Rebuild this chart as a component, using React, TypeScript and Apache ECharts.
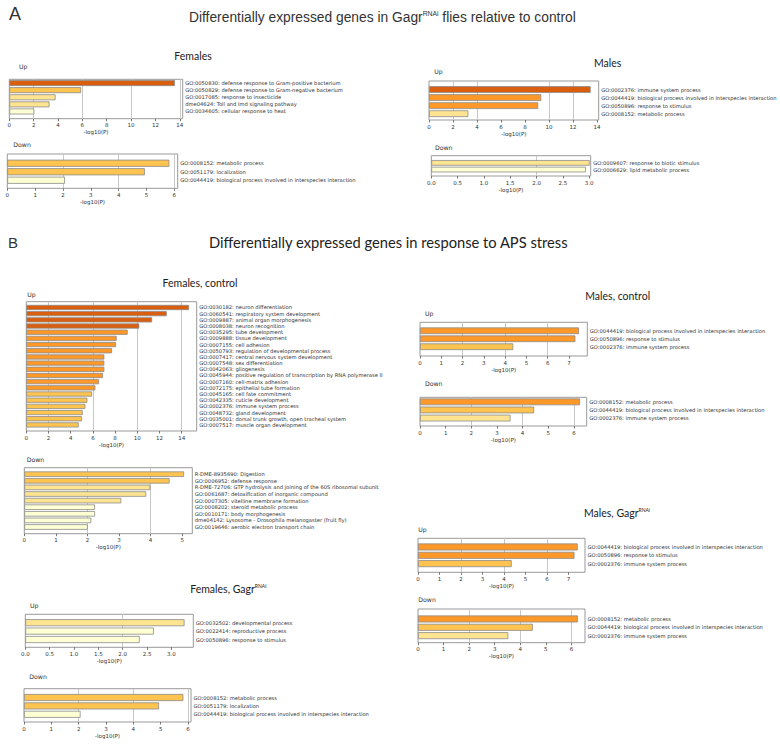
import React, { useEffect, useRef } from 'react';
import * as echarts from 'echarts';

// ---------- Data ----------
// A: Females
const femA_upTerms = [
  'GO:0050830: defense response to Gram-positive bacterium',
  'GO:0050829: defense response to Gram-negative bacterium',
  'GO:0017085: response to insecticide',
  'dme04624: Toll and Imd signaling pathway',
  'GO:0034605: cellular response to heat',
];
const femA_upValues = [13.6, 5.9, 3.8, 3.3, 2.05];
const femA_upTicks = [0, 2, 4, 6, 8, 10, 12, 14];

const femA_downTerms = [
  'GO:0008152: metabolic process',
  'GO:0051179: localization',
  'GO:0044419: biological process involved in interspecies interaction',
];
const femA_downValues = [5.82, 4.94, 2.07];
const femA_downTicks = [0, 1, 2, 3, 4, 5, 6];

// A: Males
const malA_upTerms = [
  'GO:0002376: immune system process',
  'GO:0044419: biological process involved in interspecies interaction',
  'GO:0050896: response to stimulus',
  'GO:0008152: metabolic process',
];
const malA_upValues = [13.47, 9.35, 9.1, 3.28];
const malA_upTicks = [0, 2, 4, 6, 8, 10, 12, 14];

const malA_downTerms = [
  'GO:0009607: response to biotic stimulus',
  'GO:0006629: lipid metabolic process',
];
const malA_downValues = [3.01, 2.94];
const malA_downTicks = [0, 0.5, 1, 1.5, 2, 2.5, 3];

// B: Females, control
const femCtl_upTerms = [
  'GO:0030182: neuron differentiation',
  'GO:0060541: respiratory system development',
  'GO:0009887: animal organ morphogenesis',
  'GO:0008038: neuron recognition',
  'GO:0035295: tube development',
  'GO:0009888: tissue development',
  'GO:0007155: cell adhesion',
  'GO:0050793: regulation of developmental process',
  'GO:0007417: central nervous system development',
  'GO:0007548: sex differentiation',
  'GO:0042063: gliogenesis',
  'GO:0045944: positive regulation of transcription by RNA polymerase II',
  'GO:0007160: cell-matrix adhesion',
  'GO:0072175: epithelial tube formation',
  'GO:0045165: cell fate commitment',
  'GO:0042335: cuticle development',
  'GO:0002376: immune system process',
  'GO:0048732: gland development',
  'GO:0035001: dorsal trunk growth, open tracheal system',
  'GO:0007517: muscle organ development',
];
const femCtl_upValues = [14.66, 12.65, 11.33, 10.18, 9.13, 8.14, 8.08, 7.72, 7.03, 7.03, 7.03, 6.91, 6.55, 6.22, 5.92, 5.5, 5.32, 5.08, 5.02, 4.72];
const femCtl_upTicks = [0, 2, 4, 6, 8, 10, 12, 14];

const femCtl_downTerms = [
  'R-DME-8935690: Digestion',
  'GO:0006952: defense response',
  'R-DME-72706: GTP hydrolysis and joining of the 60S ribosomal subunit',
  'GO:0061687: detoxification of inorganic compound',
  'GO:0007305: vitelline membrane formation',
  'GO:0008202: steroid metabolic process',
  'GO:0010171: body morphogenesis',
  'dme04142: Lysosome - Drosophila melanogaster (fruit fly)',
  'GO:0019646: aerobic electron transport chain',
];
const femCtl_downValues = [5.06, 4.6, 3.99, 3.86, 3.07, 2.24, 2.24, 2.12, 2.01];
const femCtl_downTicks = [0, 1, 2, 3, 4, 5];

// B: Males, control
const malCtl_upTerms = [
  'GO:0044419: biological process involved in interspecies interaction',
  'GO:0050896: response to stimulus',
  'GO:0002376: immune system process',
];
const malCtl_upValues = [7.47, 7.3, 4.38];
const malCtl_upTicks = [0, 1, 2, 3, 4, 5, 6, 7];

const malCtl_downTerms = [
  'GO:0008152: metabolic process',
  'GO:0044419: biological process involved in interspecies interaction',
  'GO:0002376: immune system process',
];
const malCtl_downValues = [6.24, 4.45, 3.53];
const malCtl_downTicks = [0, 1, 2, 3, 4, 5, 6];

// B: Males, GagrRNAi
const malGagr_upTerms = [
  'GO:0044419: biological process involved in interspecies interaction',
  'GO:0050896: response to stimulus',
  'GO:0002376: immune system process',
];
const malGagr_upValues = [7.43, 7.28, 4.36];
const malGagr_upTicks = [0, 1, 2, 3, 4, 5, 6, 7];

const malGagr_downTerms = [
  'GO:0008152: metabolic process',
  'GO:0044419: biological process involved in interspecies interaction',
  'GO:0002376: immune system process',
];
const malGagr_downValues = [6.25, 4.49, 3.53];
const malGagr_downTicks = [0, 1, 2, 3, 4, 5, 6];

// B: Females, GagrRNAi
const femGagr_upTerms = [
  'GO:0032502: developmental process',
  'GO:0022414: reproductive process',
  'GO:0050896: response to stimulus',
];
const femGagr_upValues = [3.27, 2.64, 2.35];
const femGagr_upTicks = [0, 0.5, 1, 1.5, 2, 2.5, 3];

const femGagr_downTerms = [
  'GO:0008152: metabolic process',
  'GO:0051179: localization',
  'GO:0044419: biological process involved in interspecies interaction',
];
const femGagr_downValues = [5.83, 4.94, 2.07];
const femGagr_downTicks = [0, 1, 2, 3, 4, 5, 6];

// ---------- Layout / style ----------
const binColor = (v: number) =>
  v >= 10 ? '#d95f0e' : v >= 6 ? '#fe9929' : v >= 4 ? '#fec44f' : v >= 3 ? '#fee391' : '#ffffd4';

type Panel = {
  terms: string[];
  values: number[];
  ticks: number[];
  lines: number[];
  dec: boolean;
  box: [number, number, number, number];
  inner: [number, number];
  max: number;
  tag: [number, number, string];
};

const panels: Panel[] = [
  { terms: femA_upTerms, values: femA_upValues, ticks: femA_upTicks, lines: [2, 6, 10, 14], dec: false,
    box: [9.3, 79.3, 173.4, 39.4], inner: [79.5, 35.5], max: 14.24, tag: [19, 66, 'Up'] },
  { terms: femA_downTerms, values: femA_downValues, ticks: femA_downTicks, lines: [2, 4, 6], dec: false,
    box: [7.3, 154, 170.4, 34.3], inner: [159, 25.5], max: 6.12, tag: [13.3, 144.7, 'Down'] },
  { terms: malA_upTerms, values: malA_upValues, ticks: malA_upTicks, lines: [2, 4, 10, 12], dec: false,
    box: [429, 81, 169.7, 39], inner: [85.5, 32.2], max: 14.14, tag: [434.3, 71, 'Up'] },
  { terms: malA_downTerms, values: malA_downValues, ticks: malA_downTicks, lines: [2], dec: true,
    box: [431.3, 155.7, 159.4, 20.3], inner: [159.5, 13.4], max: 3.03, tag: [435, 147.3, 'Down'] },
  { terms: femCtl_upTerms, values: femCtl_upValues, ticks: femCtl_upTicks, lines: [2, 6, 10, 14], dec: false,
    box: [26.3, 301.7, 170.4, 129.3], inner: [304.4, 123.6], max: 15.35, tag: [27.3, 294, 'Up'] },
  { terms: femCtl_downTerms, values: femCtl_downValues, ticks: femCtl_downTicks, lines: [2, 4], dec: false,
    box: [24.3, 467.7, 168, 66], inner: [470.9, 59.4], max: 5.32, tag: [26.7, 459, 'Down'] },
  { terms: malCtl_upTerms, values: malCtl_upValues, ticks: malCtl_upTicks, lines: [2, 4, 6], dec: false,
    box: [420, 322.3, 167.3, 33.7], inner: [326.8, 23.9], max: 7.86, tag: [425, 313.7, 'Up'] },
  { terms: malCtl_downTerms, values: malCtl_downValues, ticks: malCtl_downTicks, lines: [2, 4, 6], dec: false,
    box: [420, 397.3, 166.7, 28.7], inner: [397.8, 24.3], max: 6.5, tag: [425, 383.7, 'Down'] },
  { terms: malGagr_upTerms, values: malGagr_upValues, ticks: malGagr_upTicks, lines: [2, 4, 6], dec: false,
    box: [418, 538.3, 167, 34], inner: [542.8, 25], max: 7.77, tag: [418.3, 529, 'Up'] },
  { terms: malGagr_downTerms, values: malGagr_downValues, ticks: malGagr_downTicks, lines: [2, 4, 6], dec: false,
    box: [418, 609, 167, 33.7], inner: [614.8, 25], max: 6.53, tag: [418.3, 599.3, 'Down'] },
  { terms: femGagr_upTerms, values: femGagr_upValues, ticks: femGagr_upTicks, lines: [2], dec: true,
    box: [25.3, 614.3, 168, 33], inner: [618.5, 25.2], max: 3.45, tag: [30, 605.7, 'Up'] },
  { terms: femGagr_downTerms, values: femGagr_downValues, ticks: femGagr_downTicks, lines: [2, 4, 6], dec: false,
    box: [24, 688.7, 167, 33.3], inner: [693.3, 25.2], max: 6.11, tag: [29.3, 676, 'Down'] },
];

const SMALL = 'DejaVu Sans';
const TXT = '#333';
const LABEL_FS = 5.2;
const TICK_FS = 5.5;

function buildOption() {
  const grid: any[] = [];
  const xAxis: any[] = [];
  const yAxis: any[] = [];
  const series: any[] = [];
  const graphic: any[] = [];

  panels.forEach((p, i) => {
    const [l, t, w, h] = p.box;
    const outer = i * 2;
    const inner = i * 2 + 1;
    grid.push({ left: l, top: t, width: w, height: h, show: true, borderColor: '#999', borderWidth: 1,
      backgroundColor: 'transparent', containLabel: false, outerBoundsMode: 'none' });
    grid.push({ left: l, top: p.inner[0], width: w, height: p.inner[1], show: false,
      containLabel: false, outerBoundsMode: 'none' });
    const interval = p.ticks[1] - p.ticks[0];
    xAxis.push({
      type: 'value', gridIndex: outer, min: 0, max: p.max, interval,
      axisLine: { show: false }, splitLine: { show: false },
      axisTick: { show: true, length: 2.5, lineStyle: { color: '#555', width: 0.8 }, customValues: p.ticks },
      axisLabel: {
        customValues: p.ticks, fontSize: TICK_FS, fontFamily: SMALL, color: TXT, margin: 3.5,
        formatter: (v: number) => (p.dec ? v.toFixed(1) : String(Math.round(v))),
      },
      name: '-log10(P)', nameLocation: 'middle', nameGap: 10.5,
      nameTextStyle: { fontSize: TICK_FS, fontFamily: SMALL, color: TXT },
    });
    xAxis.push({ type: 'value', gridIndex: inner, min: 0, max: p.max, show: false });
    yAxis.push({ type: 'value', gridIndex: outer, min: 0, max: 1, show: false });
    yAxis.push({
      type: 'category', gridIndex: inner, data: p.terms, inverse: true, position: 'right',
      axisLine: { show: false }, axisTick: { show: false }, splitLine: { show: false },
      axisLabel: { interval: 0, fontSize: LABEL_FS, fontFamily: SMALL, color: TXT, margin: 2.5 },
    });
    series.push({
      type: 'line', xAxisIndex: outer, yAxisIndex: outer, data: [], z: 1, silent: true,
      markLine: {
        z: 1, silent: true, symbol: ['none', 'none'], label: { show: false },
        lineStyle: { color: '#c8c8c8', width: 1, type: 'solid' },
        data: p.lines.map((v) => ({ xAxis: v })),
      },
    });
    series.push({
      type: 'bar', xAxisIndex: inner, yAxisIndex: inner, z: 10, barCategoryGap: '16%',
      itemStyle: { borderColor: '#8c8c8c', borderWidth: 0.8 },
      data: p.values.map((v) => ({ value: v, itemStyle: { color: binColor(v) } })),
    });
    graphic.push({
      type: 'text', x: p.tag[0], y: p.tag[1],
      style: { text: p.tag[2], fontSize: 6.2, fontFamily: SMALL, fill: TXT,
        textVerticalAlign: 'middle', verticalAlign: 'middle' },
    });
  });

  const headFont = 'Liberation Sans';
  const subFont = 'Lato';
  const sub = (x: number, y: number, main: string, sup?: string) => ({
    type: 'text', x, y,
    style: {
      text: sup ? `{a|${main}}{s|${sup}}` : `{a|${main}}`,
      rich: {
        a: { fontSize: 10.5, fontFamily: subFont, fill: '#222' },
        s: { fontSize: 5, fontFamily: subFont, fill: '#222', padding: [0, 0, 7, 0] },
      },
      textAlign: 'center', align: 'center', textVerticalAlign: 'middle', verticalAlign: 'middle',
    },
  });

  graphic.push(
    { type: 'text', x: 9, y: 14, style: { text: 'A', fontSize: 18, fontFamily: headFont, fill: '#333',
      textVerticalAlign: 'middle', verticalAlign: 'middle' } },
    { type: 'text', x: 189, y: 17, style: {
      text: '{a|Differentially expressed genes in Gagr}{s|RNAi}{a| flies relative to control}',
      rich: {
        a: { fontSize: 13.8, fontFamily: headFont, fill: '#333' },
        s: { fontSize: 6.8, fontFamily: headFont, fill: '#333', padding: [0, 0, 8, 0] },
      },
      textVerticalAlign: 'middle', verticalAlign: 'middle' } },
    { type: 'text', x: 8, y: 242, style: { text: 'B', fontSize: 15, fontFamily: headFont, fill: '#333',
      textVerticalAlign: 'middle', verticalAlign: 'middle' } },
    { type: 'text', x: 209, y: 242, style: { text: 'Differentially expressed genes in response to APS stress',
      fontSize: 14.7, fontFamily: subFont, fill: '#222', textVerticalAlign: 'middle', verticalAlign: 'middle' } },
    sub(193, 56, 'Females'),
    sub(607.7, 62.7, 'Males'),
    sub(200, 283.3, 'Females, control'),
    sub(617.7, 296, 'Males, control'),
    sub(617, 513.3, 'Males, Gagr', 'RNAi'),
    sub(228.3, 589.3, 'Females, Gagr', 'RNAi'),
  );

  return { animation: false, backgroundColor: '#fff', grid, xAxis, yAxis, series, graphic };
}

export default function App() {
  const ref = useRef<HTMLDivElement>(null);
  useEffect(() => {
    if (!ref.current) return;
    const chart = echarts.init(ref.current, undefined, { renderer: 'svg' });
    chart.setOption(buildOption() as any);
    return () => chart.dispose();
  }, []);
  return (
    <div
      ref={ref}
      style={{ position: 'absolute', left: 0, top: 0, width: 780, height: 744, background: '#fff' }}
    />
  );
}
